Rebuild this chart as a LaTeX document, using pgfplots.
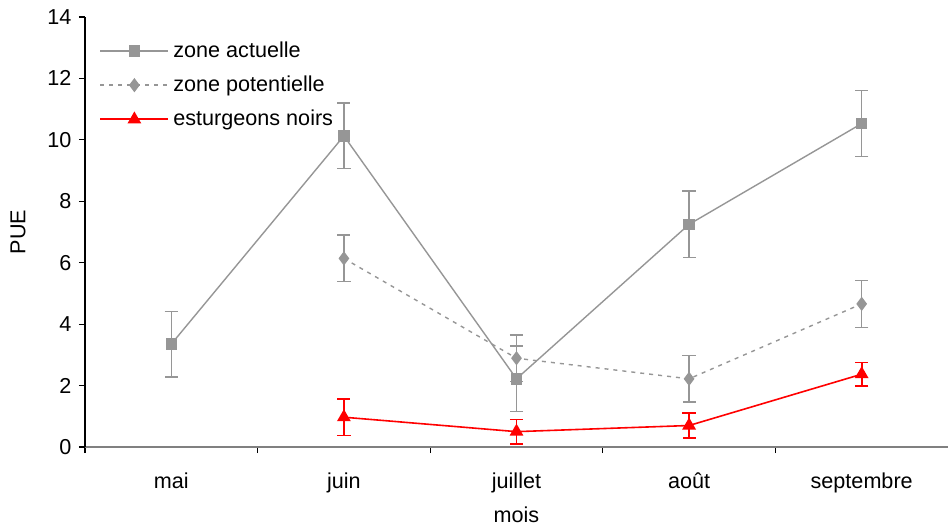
\documentclass[border=0pt]{standalone}
\usepackage{fontspec}
\setmainfont{Liberation Sans}
\usepackage{pgfplots}
\pgfplotsset{compat=1.18}
\usepackage{pgfplotstable}
\definecolor{gr}{RGB}{150,150,150}
\definecolor{axgr}{RGB}{128,128,128}

% x, value, error
\pgfplotstableread{
x y e
0 3.35 1.07
1 10.13 1.07
2 2.22 1.07
3 7.25 1.08
4 10.53 1.08
}\actuelle
\pgfplotstableread{
x y e
1 6.14 0.76
2 2.89 0.76
3 2.22 0.76
4 4.66 0.76
}\potentielle
\pgfplotstableread{
x y e
1 0.97 0.59
2 0.50 0.40
3 0.70 0.40
4 2.37 0.38
}\esturgeons

\begin{document}
\fontsize{10.8}{13}\selectfont
\begin{tikzpicture}
\begin{axis}[
    scale only axis,
    width=431.5pt, height=215pt,
    xmin=-0.5, xmax=4.5,
    ymin=0, ymax=14,
    ytick={0,2,...,14},
    xtick={0,...,4},
    xticklabels={mai,juin,juillet,août,septembre},
    minor xtick={-0.5,0.5,1.5,2.5,3.5},
    major x tick style={draw=none},
    minor tick length=3pt,
    major tick length=3pt,
    tick align=outside,
    axis x line*=bottom,
    axis y line*=left,
    x axis line style={draw=axgr, line width=0.9pt},
    y axis line style={line width=0.6pt},
    every tick/.style={black, line width=0.6pt},
    xticklabel style={yshift=-6pt},
    tick label style={font=\fontsize{10.8}{13}\selectfont},
    /pgf/number format/assume math mode=true,
    xlabel={mois},
    ylabel={PUE},
    xlabel style={at={(axis description cs:0.5,-0.158)}, anchor=center},
    ylabel style={at={(axis description cs:-0.0776,0.5)}, anchor=center},
    label style={font=\fontsize{10.8}{13}\selectfont},
    legend style={at={(axis description cs:0,1)}, anchor=north west,
        xshift=4pt, yshift=-8pt, draw=none, fill=none,
        font=\fontsize{10.8}{13}\selectfont, row sep=3.7pt},
    legend cell align=left,
    legend image code/.code={
        \draw[mark repeat=2, mark phase=2, #1]
            plot coordinates {(0pt,0pt) (17pt,0pt) (34pt,0pt)};
    },
    error bars/y dir=both,
    error bars/y explicit,
]
\addplot[gr, line width=0.7pt, mark=square*, mark size=2.5pt,
    mark options={solid},
    error bars/error bar style={gr, line width=0.7pt, solid},
    error bars/error mark options={gr, rotate=90, mark size=3.3pt, line width=0.7pt}]
    table[x=x, y=y, y error=e] {\actuelle};
\addlegendentry{zone actuelle}
\addplot[gr, line width=0.7pt, dash pattern=on 2pt off 2.5pt,
    mark=diamond*, mark size=3pt, mark options={solid},
    error bars/error bar style={gr, line width=0.7pt, solid},
    error bars/error mark options={gr, rotate=90, mark size=3.3pt, line width=0.7pt, solid}]
    table[x=x, y=y, y error=e] {\potentielle};
\addlegendentry{zone potentielle}
\addplot[red, line width=0.8pt, mark=triangle*, mark size=3.2pt,
    mark options={solid, red},
    legend image code/.code={
        \draw[draw=red, line width=1pt] (0pt,0pt) -- (34pt,0pt);
        \path[fill=red] plot[mark=triangle*, mark size=3.2pt, mark options={red}]
            coordinates {(17pt,0pt)};
    },
    error bars/error bar style={red, line width=0.8pt, solid},
    error bars/error mark options={red, rotate=90, mark size=3.3pt, line width=0.8pt}]
    table[x=x, y=y, y error=e] {\esturgeons};
\addlegendentry{esturgeons noirs}
\end{axis}
\pgfresetboundingbox
\path (-42.5pt,-40pt) rectangle (431.5pt,223.5pt);
\end{tikzpicture}
\end{document}
